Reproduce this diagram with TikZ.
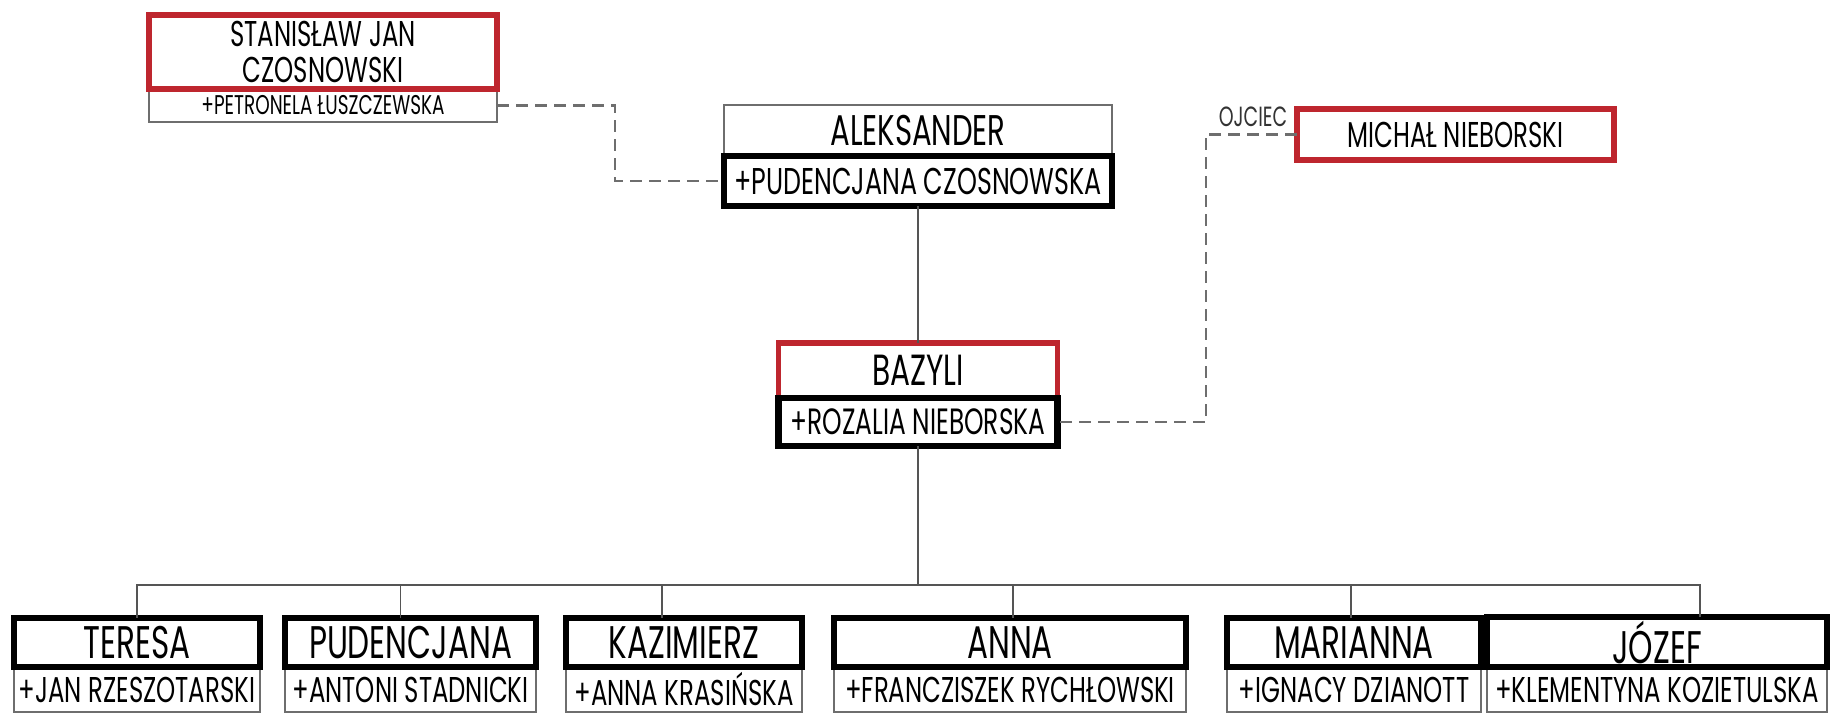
\documentclass[tikz,border=0pt]{standalone}
\usepackage{fontspec}
\newfontfamily\gothic[FakeStretch=0.68]{Poppins}
\usepackage{xcolor}
\usepackage{tikz}
\usetikzlibrary{positioning, calc}

\definecolor{famred}{RGB}{190,38,46}
\definecolor{framegray}{RGB}{110,110,110}
\definecolor{linkgray}{RGB}{85,85,85}

\begin{document}
\begin{tikzpicture}[
    x=0.01cm, y=-0.01cm,
    box/.style={rectangle, draw=framegray, line width=0.5pt, inner sep=1pt, outer sep=0pt, text centered, text=black},
    redbox/.style={box, draw=famred, line width=1.5pt},
    blackbox/.style={box, draw=black, line width=1.8pt},
    childbox/.style={minimum height=0.49cm, font=\gothic\fontsize{13}{14}\selectfont},
    spousebox/.style={minimum height=0.45cm, font=\gothic\fontsize{10.2}{11}\selectfont},
    link/.style={draw=linkgray, line width=0.5pt},
    marriage/.style={draw=framegray, line width=0.6pt, dash pattern=on 3.4pt off 2pt}
]
\useasboundingbox (0,0) rectangle (1836,716);

% Ancestors
\node[box, minimum width=3.48cm, minimum height=0.33cm, font=\gothic\fontsize{7.7}{8}\selectfont] (petronela) at (323,105.5) {+PETRONELA ŁUSZCZEWSKA};
\node[redbox, above=0pt of petronela, minimum width=3.48cm, minimum height=0.74cm, align=center, font=\gothic\fontsize{10.2}{10.5}\selectfont] (stanislaw) {STANISŁAW JAN\\CZOSNOWSKI};

\node[box, minimum width=3.88cm, minimum height=0.51cm, font=\gothic\fontsize{12.2}{13}\selectfont] (aleksander) at (918,130.5) {ALEKSANDER};
\node[blackbox, below=0pt of aleksander, minimum width=3.88cm, minimum height=0.50cm, font=\gothic\fontsize{10.6}{11}\selectfont] (pudencjanaC) {+PUDENCJANA CZOSNOWSKA};

\node[redbox, minimum width=3.17cm, minimum height=0.51cm, font=\gothic\fontsize{10.2}{11}\selectfont] (michal) at (1455.5,134.5) {MICHAŁ NIEBORSKI};
\node[font=\gothic\fontsize{7.9}{8}\selectfont, text=black!80, inner sep=0pt] (ojciec) at (1253,117) {OJCIEC};

\node[redbox, minimum width=2.79cm, minimum height=0.55cm, font=\gothic\fontsize{12.4}{13}\selectfont] (bazyli) at (918,370.5) {BAZYLI};
\node[blackbox, below=0pt of bazyli, minimum width=2.79cm, minimum height=0.48cm, font=\gothic\fontsize{10.4}{11}\selectfont] (rozalia) {+ROZALIA NIEBORSKA};

% Children
\node[box, spousebox, minimum width=2.46cm] (jan) at (137,689.5) {+JAN RZESZOTARSKI};
\node[blackbox, childbox, above=0pt of jan, minimum width=2.46cm] (teresa) {TERESA};
\node[box, spousebox, minimum width=2.51cm] (antoni) at (410.5,689.5) {+ANTONI STADNICKI};
\node[blackbox, childbox, above=0pt of antoni, minimum width=2.51cm] (pudencjana) {PUDENCJANA};
\node[box, spousebox, minimum width=2.36cm] (annaK) at (684,689.5) {+ANNA KRASIŃSKA};
\node[blackbox, childbox, above=0pt of annaK, minimum width=2.36cm] (kazimierz) {KAZIMIERZ};
\node[box, spousebox, minimum width=3.52cm] (franciszek) at (1010,689.5) {+FRANCZISZEK RYCHŁOWSKI};
\node[blackbox, childbox, above=0pt of franciszek, minimum width=3.52cm] (anna) {ANNA};
\node[box, spousebox, minimum width=2.54cm] (ignacy) at (1354,689.5) {+IGNACY DZIANOTT};
\node[blackbox, childbox, above=0pt of ignacy, minimum width=2.54cm] (marianna) {MARIANNA};
\node[box, spousebox, minimum width=3.40cm] (klementyna) at (1657,689.5) {+KLEMENTYNA KOZIETULSKA};
\node[blackbox, childbox, above=0pt of klementyna, minimum width=3.40cm] (jozef) {JÓZEF};

% Lines
\draw[link] (pudencjanaC.south) -- (bazyli.north);
\coordinate (bus) at (918,585);
\draw[link] (rozalia.south) -- (bus);
\draw[link] (teresa.north) |- (bus);
\draw[link] ($(pudencjana.north)+(-10,0)$) |- (bus);
\draw[link] ($(kazimierz.north)+(-22,0)$) |- (bus);
\draw[link] ($(anna.north)+(3,0)$) |- (bus);
\draw[link] ($(marianna.north)+(-3,0)$) |- (bus);
\draw[link] ($(jozef.north)+(43,0)$) |- (bus);

% Marriages
\draw[marriage] (petronela.east) -- ++(118,0) |- (pudencjanaC.west);
\draw[marriage] (michal.west) -- ++(-91,0) |- (rozalia.east);

\end{tikzpicture}
\end{document}
